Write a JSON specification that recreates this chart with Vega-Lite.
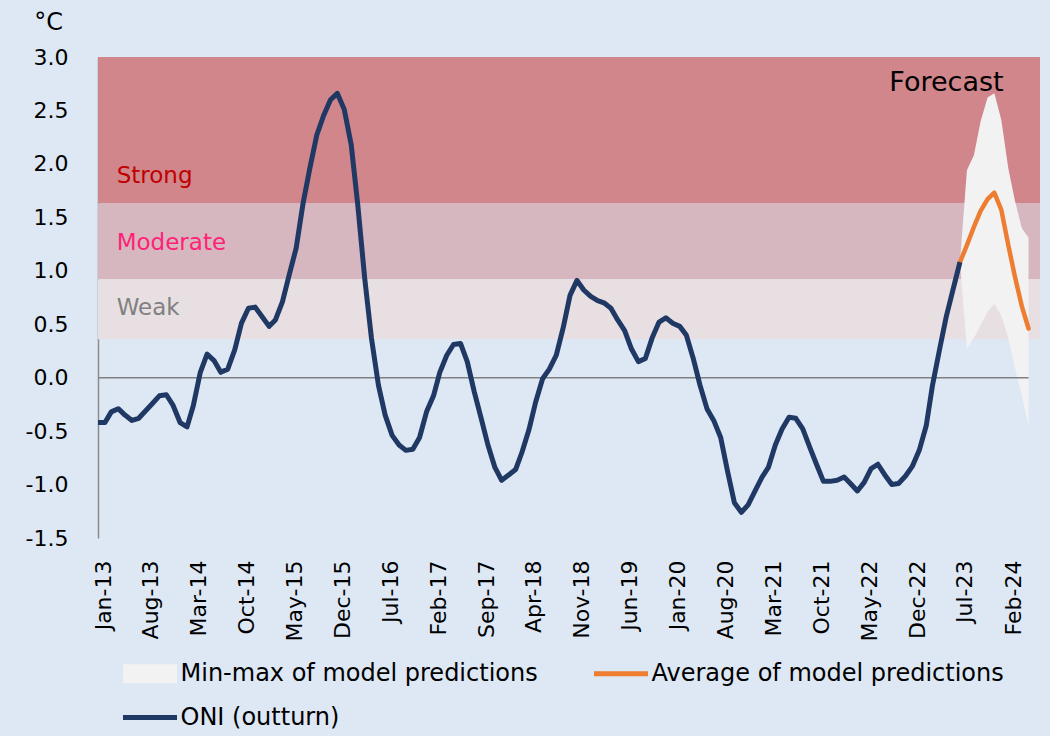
{
  "$schema": "https://vega.github.io/schema/vega-lite/v6.json",
  "width": 942,
  "height": 481,
  "autosize": {"type": "none"},
  "padding": {"left": 98, "top": 57, "right": 10, "bottom": 198},
  "background": "#dde8f4",
  "config": {
    "view": {"stroke": null},
    "font": "DejaVu Sans",
    "axis": {"labelFont": "DejaVu Sans", "labelColor": "#000000", "grid": false},
    "legend": {
      "orient": "none",
      "legendX": 25,
      "legendY": 603,
      "direction": "horizontal",
      "columns": 2,
      "columnPadding": 56,
      "rowPadding": 18,
      "padding": 0,
      "symbolSize": 729,
      "symbolOffset": 13.5,
      "symbolStrokeWidth": 0,
      "labelOffset": 17,
      "labelFontSize": 24,
      "labelFont": "DejaVu Sans",
      "labelColor": "#000000",
      "labelLimit": 600
    }
  },
  "datasets": {
    "oni": [
      {"date": "2013-01-01", "oni": -0.42}, {"date": "2013-02-01", "oni": -0.42}, {"date": "2013-03-01", "oni": -0.32},
      {"date": "2013-04-01", "oni": -0.29}, {"date": "2013-05-01", "oni": -0.35}, {"date": "2013-06-01", "oni": -0.40},
      {"date": "2013-07-01", "oni": -0.38}, {"date": "2013-08-01", "oni": -0.31}, {"date": "2013-09-01", "oni": -0.24},
      {"date": "2013-10-01", "oni": -0.17}, {"date": "2013-11-01", "oni": -0.16}, {"date": "2013-12-01", "oni": -0.26},
      {"date": "2014-01-01", "oni": -0.42}, {"date": "2014-02-01", "oni": -0.46}, {"date": "2014-03-01", "oni": -0.26},
      {"date": "2014-04-01", "oni": 0.05}, {"date": "2014-05-01", "oni": 0.22}, {"date": "2014-06-01", "oni": 0.16},
      {"date": "2014-07-01", "oni": 0.05}, {"date": "2014-08-01", "oni": 0.08}, {"date": "2014-09-01", "oni": 0.26},
      {"date": "2014-10-01", "oni": 0.51}, {"date": "2014-11-01", "oni": 0.65}, {"date": "2014-12-01", "oni": 0.66},
      {"date": "2015-01-01", "oni": 0.57}, {"date": "2015-02-01", "oni": 0.48}, {"date": "2015-03-01", "oni": 0.54},
      {"date": "2015-04-01", "oni": 0.71}, {"date": "2015-05-01", "oni": 0.96}, {"date": "2015-06-01", "oni": 1.21},
      {"date": "2015-07-01", "oni": 1.62}, {"date": "2015-08-01", "oni": 1.96}, {"date": "2015-09-01", "oni": 2.27},
      {"date": "2015-10-01", "oni": 2.45}, {"date": "2015-11-01", "oni": 2.60}, {"date": "2015-12-01", "oni": 2.66},
      {"date": "2016-01-01", "oni": 2.51}, {"date": "2016-02-01", "oni": 2.18}, {"date": "2016-03-01", "oni": 1.62},
      {"date": "2016-04-01", "oni": 0.93}, {"date": "2016-05-01", "oni": 0.37}, {"date": "2016-06-01", "oni": -0.07},
      {"date": "2016-07-01", "oni": -0.35}, {"date": "2016-08-01", "oni": -0.54}, {"date": "2016-09-01", "oni": -0.63},
      {"date": "2016-10-01", "oni": -0.68}, {"date": "2016-11-01", "oni": -0.67}, {"date": "2016-12-01", "oni": -0.56},
      {"date": "2017-01-01", "oni": -0.32}, {"date": "2017-02-01", "oni": -0.17}, {"date": "2017-03-01", "oni": 0.05},
      {"date": "2017-04-01", "oni": 0.21}, {"date": "2017-05-01", "oni": 0.31}, {"date": "2017-06-01", "oni": 0.32},
      {"date": "2017-07-01", "oni": 0.15}, {"date": "2017-08-01", "oni": -0.13}, {"date": "2017-09-01", "oni": -0.38},
      {"date": "2017-10-01", "oni": -0.63}, {"date": "2017-11-01", "oni": -0.84}, {"date": "2017-12-01", "oni": -0.96},
      {"date": "2018-01-01", "oni": -0.91}, {"date": "2018-02-01", "oni": -0.86}, {"date": "2018-03-01", "oni": -0.70},
      {"date": "2018-04-01", "oni": -0.49}, {"date": "2018-05-01", "oni": -0.23}, {"date": "2018-06-01", "oni": -0.01},
      {"date": "2018-07-01", "oni": 0.08}, {"date": "2018-08-01", "oni": 0.21}, {"date": "2018-09-01", "oni": 0.47},
      {"date": "2018-10-01", "oni": 0.77}, {"date": "2018-11-01", "oni": 0.91}, {"date": "2018-12-01", "oni": 0.82},
      {"date": "2019-01-01", "oni": 0.76}, {"date": "2019-02-01", "oni": 0.72}, {"date": "2019-03-01", "oni": 0.70},
      {"date": "2019-04-01", "oni": 0.65}, {"date": "2019-05-01", "oni": 0.54}, {"date": "2019-06-01", "oni": 0.44},
      {"date": "2019-07-01", "oni": 0.27}, {"date": "2019-08-01", "oni": 0.15}, {"date": "2019-09-01", "oni": 0.18},
      {"date": "2019-10-01", "oni": 0.37}, {"date": "2019-11-01", "oni": 0.52}, {"date": "2019-12-01", "oni": 0.56},
      {"date": "2020-01-01", "oni": 0.51}, {"date": "2020-02-01", "oni": 0.48}, {"date": "2020-03-01", "oni": 0.40},
      {"date": "2020-04-01", "oni": 0.18}, {"date": "2020-05-01", "oni": -0.07}, {"date": "2020-06-01", "oni": -0.29},
      {"date": "2020-07-01", "oni": -0.40}, {"date": "2020-08-01", "oni": -0.56}, {"date": "2020-09-01", "oni": -0.88},
      {"date": "2020-10-01", "oni": -1.17}, {"date": "2020-11-01", "oni": -1.26}, {"date": "2020-12-01", "oni": -1.19},
      {"date": "2021-01-01", "oni": -1.06}, {"date": "2021-02-01", "oni": -0.93}, {"date": "2021-03-01", "oni": -0.84},
      {"date": "2021-04-01", "oni": -0.63}, {"date": "2021-05-01", "oni": -0.48}, {"date": "2021-06-01", "oni": -0.37},
      {"date": "2021-07-01", "oni": -0.38}, {"date": "2021-08-01", "oni": -0.48}, {"date": "2021-09-01", "oni": -0.65},
      {"date": "2021-10-01", "oni": -0.81}, {"date": "2021-11-01", "oni": -0.97}, {"date": "2021-12-01", "oni": -0.97},
      {"date": "2022-01-01", "oni": -0.96}, {"date": "2022-02-01", "oni": -0.93}, {"date": "2022-03-01", "oni": -0.99},
      {"date": "2022-04-01", "oni": -1.06}, {"date": "2022-05-01", "oni": -0.98}, {"date": "2022-06-01", "oni": -0.85},
      {"date": "2022-07-01", "oni": -0.81}, {"date": "2022-08-01", "oni": -0.91}, {"date": "2022-09-01", "oni": -1.00},
      {"date": "2022-10-01", "oni": -0.99}, {"date": "2022-11-01", "oni": -0.92}, {"date": "2022-12-01", "oni": -0.83},
      {"date": "2023-01-01", "oni": -0.68}, {"date": "2023-02-01", "oni": -0.45}, {"date": "2023-03-01", "oni": -0.07},
      {"date": "2023-04-01", "oni": 0.26}, {"date": "2023-05-01", "oni": 0.57}, {"date": "2023-06-01", "oni": 0.83},
      {"date": "2023-07-01", "oni": 1.08}
    ],
    "forecast": [
      {"date": "2023-07-01", "avg": 1.08, "min": 1.08, "max": 1.08},
      {"date": "2023-08-01", "avg": 1.24, "min": 0.27, "max": 1.94},
      {"date": "2023-09-01", "avg": 1.41, "min": 0.37, "max": 2.08},
      {"date": "2023-10-01", "avg": 1.56, "min": 0.49, "max": 2.40},
      {"date": "2023-11-01", "avg": 1.67, "min": 0.62, "max": 2.62},
      {"date": "2023-12-01", "avg": 1.73, "min": 0.69, "max": 2.66},
      {"date": "2024-01-01", "avg": 1.57, "min": 0.58, "max": 2.41},
      {"date": "2024-02-01", "avg": 1.24, "min": 0.37, "max": 1.96},
      {"date": "2024-03-01", "avg": 0.95, "min": 0.10, "max": 1.66},
      {"date": "2024-04-01", "avg": 0.67, "min": -0.17, "max": 1.40},
      {"date": "2024-05-01", "avg": 0.46, "min": -0.45, "max": 1.31}
    ],
    "bands": [
      {"level": "Strong", "lo": 1.63, "hi": 3.0},
      {"level": "Moderate", "lo": 0.92, "hi": 1.63},
      {"level": "Weak", "lo": 0.36, "hi": 0.92}
    ],
    "series": [
      {"series": "Min-max of model predictions"},
      {"series": "Average of model predictions"},
      {"series": "ONI (outturn)"}
    ]
  },
  "layer": [
    {
      "data": {"name": "bands"},
      "mark": {"type": "rect"},
      "encoding": {
        "y": {
          "field": "lo", "type": "quantitative",
          "scale": {"domain": [-1.5, 3.0], "nice": false, "zero": false},
          "axis": {
            "values": [-1.5, -1.0, -0.5, 0, 0.5, 1.0, 1.5, 2.0, 2.5, 3.0],
            "labelExpr": "replace(format(datum.value, '.1f'), '\u2212', '-')",
            "ticks": false,
            "labelPadding": 30,
            "labelFontSize": 22,
            "domainColor": "#8c8c8c",
            "domainWidth": 1.5,
            "title": "°C",
            "titleAngle": 0,
            "titleAlign": "center",
            "titleBaseline": "middle",
            "titleX": -50,
            "titleY": -35,
            "titleFontSize": 24,
            "titleFontWeight": "normal",
            "titleColor": "#000000"
          }
        },
        "y2": {"field": "hi"},
        "fill": {
          "field": "level", "type": "nominal",
          "scale": {"domain": ["Strong", "Moderate", "Weak"], "range": ["#d0868b", "#d6b7bf", "#e8dfe2"]},
          "legend": null
        }
      }
    },
    {
      "data": {"name": "forecast"},
      "mark": {"type": "area", "color": "#f2f2f2", "opacity": 1},
      "encoding": {
        "x": {
          "field": "date", "type": "temporal",
          "scale": {"type": "utc", "domain": [{"year": 2013, "month": 1, "date": 1, "utc": true}, {"year": 2024, "month": 6, "date": 21, "utc": true}]},
          "axis": {
            "values": [
              {"year": 2013, "month": 1, "date": 1, "utc": true}, {"year": 2013, "month": 8, "date": 1, "utc": true},
              {"year": 2014, "month": 3, "date": 1, "utc": true}, {"year": 2014, "month": 10, "date": 1, "utc": true},
              {"year": 2015, "month": 5, "date": 1, "utc": true}, {"year": 2015, "month": 12, "date": 1, "utc": true},
              {"year": 2016, "month": 7, "date": 1, "utc": true}, {"year": 2017, "month": 2, "date": 1, "utc": true},
              {"year": 2017, "month": 9, "date": 1, "utc": true}, {"year": 2018, "month": 4, "date": 1, "utc": true},
              {"year": 2018, "month": 11, "date": 1, "utc": true}, {"year": 2019, "month": 6, "date": 1, "utc": true},
              {"year": 2020, "month": 1, "date": 1, "utc": true}, {"year": 2020, "month": 8, "date": 1, "utc": true},
              {"year": 2021, "month": 3, "date": 1, "utc": true}, {"year": 2021, "month": 10, "date": 1, "utc": true},
              {"year": 2022, "month": 5, "date": 1, "utc": true}, {"year": 2022, "month": 12, "date": 1, "utc": true},
              {"year": 2023, "month": 7, "date": 1, "utc": true}, {"year": 2024, "month": 2, "date": 1, "utc": true}
            ],
            "format": "%b-%y",
            "labelAngle": -90,
            "labelFontSize": 22,
            "labelPadding": 22,
            "labelOffset": 5,
            "labelOverlap": false,
            "labelFlush": false,
            "ticks": false,
            "domain": false,
            "title": null
          }
        },
        "y": {"field": "min", "type": "quantitative"},
        "y2": {"field": "max"}
      }
    },
    {
      "data": {"values": [{"start": "2013-01-01", "end": "2024-05-01"}]},
      "mark": {"type": "rule", "color": "#808080", "strokeWidth": 1.5},
      "encoding": {
        "x": {"field": "start", "type": "temporal"},
        "x2": {"field": "end"},
        "y": {"datum": 0}
      }
    },
    {
      "data": {"name": "forecast"},
      "mark": {"type": "line", "color": "#ed7d31", "strokeWidth": 4.5, "strokeJoin": "round", "strokeCap": "round"},
      "encoding": {
        "x": {"field": "date", "type": "temporal"},
        "y": {"field": "avg", "type": "quantitative"}
      }
    },
    {
      "data": {"name": "oni"},
      "mark": {"type": "line", "color": "#1f3864", "strokeWidth": 5, "strokeJoin": "round", "strokeCap": "butt"},
      "encoding": {
        "x": {"field": "date", "type": "temporal"},
        "y": {"field": "oni", "type": "quantitative"}
      }
    },
    {
      "data": {"name": "series"},
      "mark": {"type": "point", "filled": true, "strokeWidth": 0, "opacity": 1},
      "encoding": {
        "x": {"field": "date", "type": "temporal"},
        "y": {"field": "v", "type": "quantitative"},
        "color": {
          "field": "series", "type": "nominal",
          "scale": {
            "domain": ["Min-max of model predictions", "Average of model predictions", "ONI (outturn)"],
            "range": ["#f2f2f2", "#ed7d31", "#1f3864"]
          },
          "legend": {"title": null}
        },
        "shape": {
          "field": "series", "type": "nominal",
          "scale": {
            "domain": ["Min-max of model predictions", "Average of model predictions", "ONI (outturn)"],
            "range": ["M-2,-0.7H2V0.7H-2Z", "M-2,-0.18H2V0.18H-2Z", "M-2,-0.18H2V0.18H-2Z"]
          },
          "legend": {"title": null}
        }
      }
    },
    {
      "data": {"values": [{"label": "Strong", "date": "2013-03-25", "v": 1.82}]},
      "mark": {"type": "text", "align": "left", "baseline": "alphabetic", "fontSize": 23, "color": "#c00000"},
      "encoding": {"x": {"field": "date", "type": "temporal"}, "y": {"field": "v", "type": "quantitative"}, "text": {"field": "label"}}
    },
    {
      "data": {"values": [{"label": "Moderate", "date": "2013-03-25", "v": 1.19}]},
      "mark": {"type": "text", "align": "left", "baseline": "alphabetic", "fontSize": 23, "color": "#ff2277"},
      "encoding": {"x": {"field": "date", "type": "temporal"}, "y": {"field": "v", "type": "quantitative"}, "text": {"field": "label"}}
    },
    {
      "data": {"values": [{"label": "Weak", "date": "2013-03-25", "v": 0.584}]},
      "mark": {"type": "text", "align": "left", "baseline": "alphabetic", "fontSize": 23, "color": "#808080"},
      "encoding": {"x": {"field": "date", "type": "temporal"}, "y": {"field": "v", "type": "quantitative"}, "text": {"field": "label"}}
    },
    {
      "data": {"values": [{"label": "Forecast", "date": "2022-08-21", "v": 2.678}]},
      "mark": {"type": "text", "align": "left", "baseline": "alphabetic", "fontSize": 27, "color": "#000000"},
      "encoding": {"x": {"field": "date", "type": "temporal"}, "y": {"field": "v", "type": "quantitative"}, "text": {"field": "label"}}
    }
  ]
}
